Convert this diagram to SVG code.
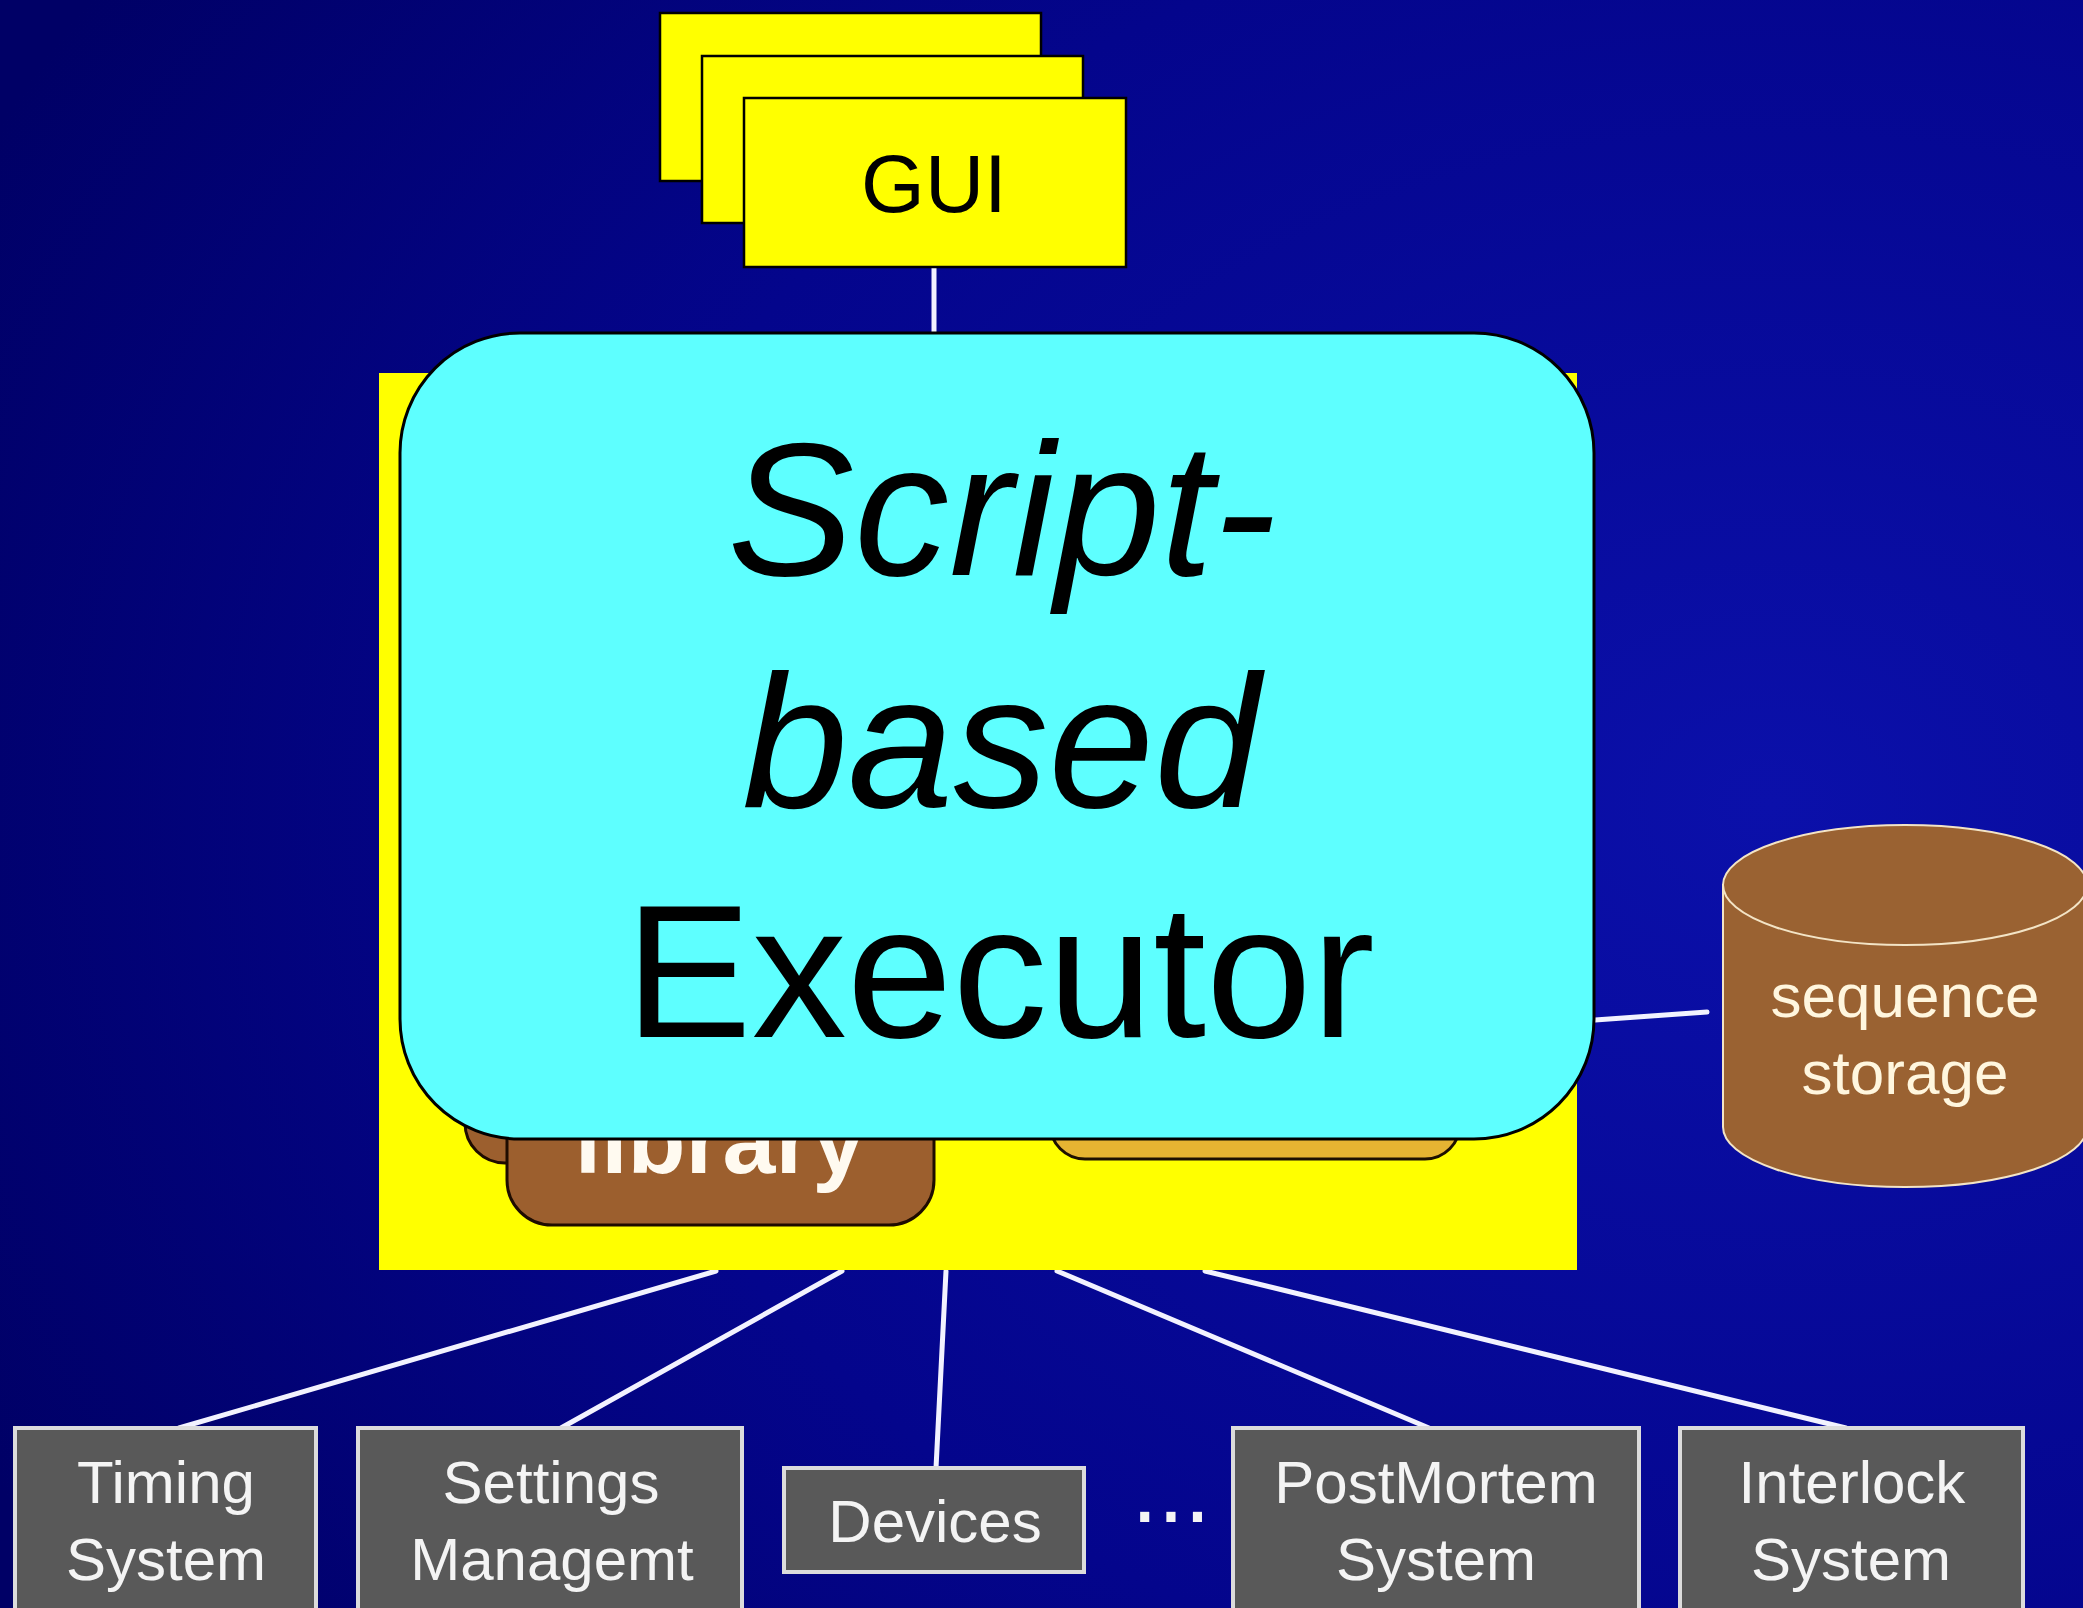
<svg xmlns="http://www.w3.org/2000/svg" width="2083" height="1608" viewBox="0 0 2083 1608">
  <defs>
    <radialGradient id="bg" cx="0.85" cy="0.5" r="0.95">
      <stop offset="0" stop-color="#0b10aa"/>
      <stop offset="0.6" stop-color="#04058c"/>
      <stop offset="1" stop-color="#000066"/>
    </radialGradient>
    <style>
      .sans { font-family: "Liberation Sans", Arial, sans-serif; }
      .card { fill: #ffff00; stroke: #000000; stroke-width: 2.5; }
      .link { stroke: #f2f2ff; stroke-width: 5; stroke-linecap: round; fill: none; }
      .sys { fill: #595959; stroke: #dcdcdc; stroke-width: 4; }
      .sysText { fill: #f4f4f4; font-size: 60px; text-anchor: middle; }
      .lib { fill: #9c5f2e; stroke: #1e0c00; stroke-width: 3; }
      .big { fill: #000000; font-size: 190px; text-anchor: middle; }
    </style>
  </defs>

  <!-- backdrop -->
  <rect x="0" y="0" width="2083" height="1608" fill="url(#bg)"/>

  <!-- connectors -->
  <g id="connectors">
    <line class="link" x1="934" y1="267" x2="934" y2="333"/>
    <line class="link" x1="1595" y1="1020" x2="1707" y2="1012"/>
    <line class="link" x1="716" y1="1271" x2="179" y2="1428"/>
    <line class="link" x1="842" y1="1271" x2="561" y2="1428"/>
    <line class="link" x1="946" y1="1271" x2="936" y2="1468"/>
    <line class="link" x1="1057" y1="1271" x2="1429" y2="1428"/>
    <line class="link" x1="1205" y1="1271" x2="1846" y2="1428"/>
  </g>

  <!-- stacked GUI windows -->
  <g id="gui">
    <rect class="card" x="660" y="13" width="381" height="168"/>
    <rect class="card" x="702" y="56" width="381" height="167"/>
    <rect class="card" x="744" y="98" width="382" height="169"/>
    <text class="sans" x="934" y="212" font-size="82" text-anchor="middle" fill="#000000">GUI</text>
  </g>

  <!-- executor with its library and components -->
  <g id="executor">
    <rect x="379" y="373" width="1198" height="897" fill="#ffff00"/>
    <rect class="lib" x="465" y="1000" width="427" height="163" rx="40"/>
    <rect class="lib" x="507" y="1040" width="427" height="185" rx="45"/>
    <text class="sans" x="720" y="1173" font-size="95" font-weight="bold" text-anchor="middle" fill="#fffaf0">library</text>
    <rect x="1050" y="1000" width="410" height="159" rx="35" fill="#e6b432" stroke="#1e1000" stroke-width="3"/>
    <rect x="400" y="333" width="1194" height="806" rx="120" fill="#5effff" stroke="#000000" stroke-width="3"/>
    <text class="sans big" x="1002" y="575" font-style="italic">Script-</text>
    <text class="sans big" x="1001" y="807" font-style="italic">based</text>
    <text class="sans big" x="1000" y="1037">Executor</text>
  </g>

  <!-- sequence storage cylinder -->
  <g id="storage">
    <path d="M1723,885 L1723,1127 A182,60 0 0 0 2087,1127 L2087,885 Z" fill="#9a6232" stroke="#f3e4c6" stroke-width="2"/>
    <ellipse cx="1905" cy="885" rx="182" ry="60" fill="#9a6232" stroke="#f3e4c6" stroke-width="2"/>
    <text class="sans" x="1905" y="1017" font-size="62" text-anchor="middle" fill="#fff6de">sequence</text>
    <text class="sans" x="1905" y="1094" font-size="62" text-anchor="middle" fill="#fff6de">storage</text>
  </g>

  <!-- external systems -->
  <g id="timing">
    <rect class="sys" x="15" y="1428" width="301" height="200"/>
    <text class="sans sysText" x="166" y="1503">Timing</text>
    <text class="sans sysText" x="166" y="1580">System</text>
  </g>
  <g id="settings">
    <rect class="sys" x="358" y="1428" width="384" height="200"/>
    <text class="sans sysText" x="551" y="1503">Settings</text>
    <text class="sans sysText" x="552" y="1580">Managemt</text>
  </g>
  <g id="devices">
    <rect class="sys" x="784" y="1468" width="300" height="104"/>
    <text class="sans sysText" x="935" y="1542">Devices</text>
  </g>
  <text class="sans" x="1171" y="1522" font-size="95" text-anchor="middle" fill="#f4f4f4">...</text>
  <g id="postmortem">
    <rect class="sys" x="1233" y="1428" width="406" height="200"/>
    <text class="sans sysText" x="1436" y="1503">PostMortem</text>
    <text class="sans sysText" x="1436" y="1580">System</text>
  </g>
  <g id="interlock">
    <rect class="sys" x="1680" y="1428" width="343" height="200"/>
    <text class="sans sysText" x="1852" y="1503">Interlock</text>
    <text class="sans sysText" x="1851" y="1580">System</text>
  </g>
</svg>
